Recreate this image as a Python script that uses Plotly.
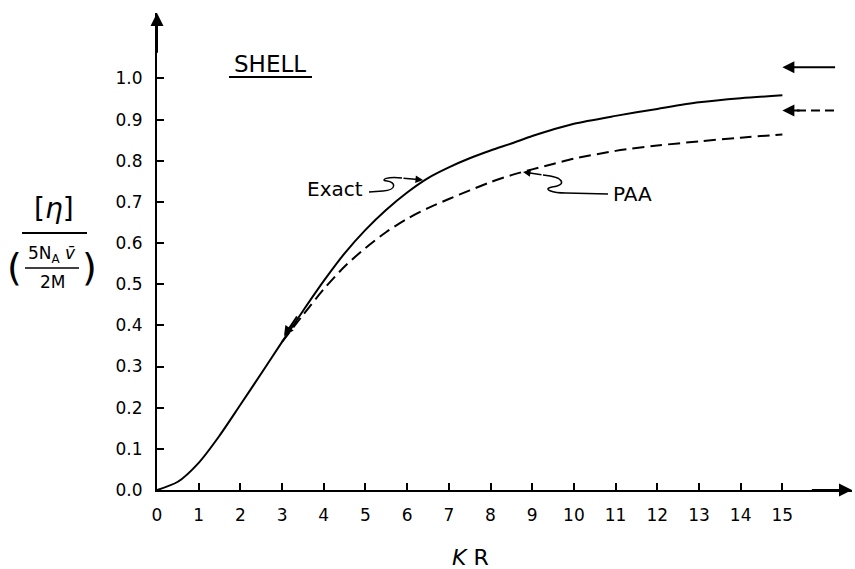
import plotly.graph_objects as go

# ---------------- data ----------------
kr_exact = [0, 0.5, 1, 1.5, 2, 2.5, 3, 3.5, 4, 4.5, 5, 5.5, 6, 6.5, 7, 7.5, 8, 8.5,
            9, 9.5, 10, 11, 12, 13, 14, 15]
eta_exact = [0, 0.02, 0.066, 0.132, 0.207, 0.283, 0.36, 0.435, 0.508, 0.575, 0.632, 0.681,
             0.723, 0.758, 0.784, 0.806, 0.825, 0.842, 0.86, 0.876, 0.89, 0.909, 0.926,
             0.942, 0.952, 0.959]
kr_paa = [3, 3.5, 4, 4.5, 5, 5.5, 6, 6.5, 7, 7.5, 8, 8.5, 9, 9.5, 10, 11, 12, 13, 14, 15]
eta_paa = [0.36, 0.425, 0.488, 0.543, 0.588, 0.627, 0.659, 0.685, 0.707, 0.728, 0.748,
           0.765, 0.779, 0.792, 0.805, 0.824, 0.837, 0.847, 0.856, 0.864]
exact_limit = 1.027
paa_limit = 0.922
x_ticks = list(range(16))
x_tick_labels = [str(v) for v in x_ticks]
y_ticks = [0.0, 0.1, 0.2, 0.3, 0.4, 0.5, 0.6, 0.7, 0.8, 0.9, 1.0]
y_tick_labels = ["0.0", "0.1", "0.2", "0.3", "0.4", "0.5", "0.6", "0.7", "0.8", "0.9", "1.0"]

# ---------------- layout geometry ----------------
W, H = 855, 569
L, R, T, B = 157, 852, 13, 490
XMAX = 16.67
YMAX = 1.159
FONT = "DejaVu Sans"

def X(px):
    return (px - L) / (R - L) * XMAX

def Y(py):
    return (B - py) / (B - T) * YMAX

def PX(px):
    return (px - L) / (R - L)

def PY(py):
    return (B - py) / (B - T)

fig = go.Figure()

fig.add_trace(go.Scatter(x=kr_exact, y=eta_exact, mode="lines",
                         line=dict(color="black", width=2, shape="spline", smoothing=0.8),
                         name="Exact", showlegend=False))
fig.add_trace(go.Scatter(x=kr_paa, y=eta_paa, mode="lines",
                         line=dict(color="black", width=2, shape="spline", smoothing=0.8,
                                   dash="12px,6px"),
                         name="PAA", showlegend=False))
# dashed tail of the PAA asymptote marker
fig.add_trace(go.Scatter(x=[15.35, 16.3], y=[paa_limit, paa_limit], mode="lines",
                         line=dict(color="black", width=2, dash="9px,5px"),
                         showlegend=False, hoverinfo="skip"))

ann = []
# axis arrowheads
ann.append(dict(x=XMAX, y=0, ax=XMAX - 1.0, ay=0, xref="x", yref="y", axref="x", ayref="y",
                text="", showarrow=True, arrowhead=2, arrowsize=1.3, arrowwidth=2,
                arrowcolor="black"))
ann.append(dict(x=0, y=YMAX, ax=0, ay=YMAX - 0.1, xref="x", yref="y", axref="x", ayref="y",
                text="", showarrow=True, arrowhead=2, arrowsize=1.3, arrowwidth=2,
                arrowcolor="black"))
# asymptote arrows
ann.append(dict(x=15.0, y=exact_limit, ax=16.3, ay=exact_limit, xref="x", yref="y",
                axref="x", ayref="y", text="", showarrow=True, arrowhead=2, arrowsize=1.2,
                arrowwidth=2, arrowcolor="black"))
ann.append(dict(x=15.0, y=paa_limit, ax=15.45, ay=paa_limit, xref="x", yref="y",
                axref="x", ayref="y", text="", showarrow=True, arrowhead=2, arrowsize=1.2,
                arrowwidth=2, arrowcolor="black"))
# small arrow where PAA joins exact curve
ann.append(dict(x=X(284), y=Y(336), ax=X(298), ay=Y(315), xref="x", yref="y",
                axref="x", ayref="y", text="", showarrow=True, arrowhead=2, arrowsize=1,
                arrowwidth=2, arrowcolor="black"))
# callout arrowheads
ann.append(dict(x=X(423), y=Y(180), ax=X(402), ay=Y(178), xref="x", yref="y",
                axref="x", ayref="y", text="", showarrow=True, arrowhead=2, arrowsize=1,
                arrowwidth=1.5, arrowcolor="black"))
ann.append(dict(x=X(523), y=Y(172), ax=X(543), ay=Y(175), xref="x", yref="y",
                axref="x", ayref="y", text="", showarrow=True, arrowhead=2, arrowsize=1,
                arrowwidth=1.5, arrowcolor="black"))

def text_ann(px, py, text, size, ref="x"):
    if ref == "x":
        return dict(x=X(px), y=Y(py), xref="x", yref="y", text=text, showarrow=False,
                    xanchor="center", yanchor="middle",
                    font=dict(family=FONT, size=size, color="black"))
    return dict(x=PX(px), y=PY(py), xref="paper", yref="paper", text=text, showarrow=False,
                xanchor="center", yanchor="middle",
                font=dict(family=FONT, size=size, color="black"))

ann.append(text_ann(335, 189, "Exact", 20))
ann.append(text_ann(632, 194, "PAA", 20))
ann.append(text_ann(270, 64, "SHELL", 23))
ann.append(text_ann(470, 557, "<i>K</i> R", 22, ref="paper"))
# y-axis title as a stacked fraction
ann.append(text_ann(54, 208, "[<i>η</i>]", 28, ref="paper"))
ann.append(text_ann(52, 254, "5N<sub>A</sub> <i>v̄</i>", 17, ref="paper"))
ann.append(text_ann(52, 282, "2M", 17, ref="paper"))
ann.append(text_ann(14, 267, "(", 38, ref="paper"))
ann.append(text_ann(89, 267, ")", 38, ref="paper"))

shapes = []
# fraction bars
shapes.append(dict(type="line", xref="paper", yref="paper", x0=PX(22), x1=PX(87),
                   y0=PY(233), y1=PY(233), line=dict(color="black", width=2)))
shapes.append(dict(type="line", xref="paper", yref="paper", x0=PX(25), x1=PX(79),
                   y0=PY(268), y1=PY(268), line=dict(color="black", width=1.5)))
# SHELL underline
shapes.append(dict(type="line", xref="x", yref="y", x0=X(229), x1=X(312),
                   y0=Y(77), y1=Y(77), line=dict(color="black", width=2)))

def P(px, py):
    return f"{X(px):.4f},{Y(py):.5f}"

exact_sq = (f"M {P(369,192)} L {P(383,191)} C {P(397,190)} {P(396,182)} {P(387,181)} "
            f"C {P(379,180)} {P(388,176)} {P(402,178)}")
shapes.append(dict(type="path", xref="x", yref="y", path=exact_sq,
                   line=dict(color="black", width=1.5)))
paa_sq = (f"M {P(543,175)} C {P(566,177)} {P(566,186)} {P(552,187)} "
          f"C {P(542,189)} {P(552,193)} {P(566,193)} L {P(608,194)}")
shapes.append(dict(type="path", xref="x", yref="y", path=paa_sq,
                   line=dict(color="black", width=1.5)))

fig.update_layout(
    width=W, height=H,
    margin=dict(l=L, r=W - R, t=T, b=H - B, pad=0),
    paper_bgcolor="white", plot_bgcolor="white",
    showlegend=False,
    annotations=ann, shapes=shapes,
    font=dict(family=FONT, color="black"),
)
fig.update_xaxes(range=[0, XMAX], showgrid=False, zeroline=False, showline=True,
                 linecolor="black", linewidth=2, ticks="inside", ticklen=7, tickwidth=1.5,
                 tickcolor="black", tickvals=x_ticks, ticktext=x_tick_labels,
                 tickfont=dict(family=FONT, size=17, color="black"),
                 ticklabelstandoff=9)
fig.update_yaxes(range=[0, YMAX], showgrid=False, zeroline=False, showline=True,
                 linecolor="black", linewidth=2, ticks="inside", ticklen=7, tickwidth=1.5,
                 tickcolor="black", tickvals=y_ticks, ticktext=y_tick_labels,
                 tickfont=dict(family=FONT, size=17, color="black"),
                 ticklabelstandoff=9)

fig.write_html("out.html")
